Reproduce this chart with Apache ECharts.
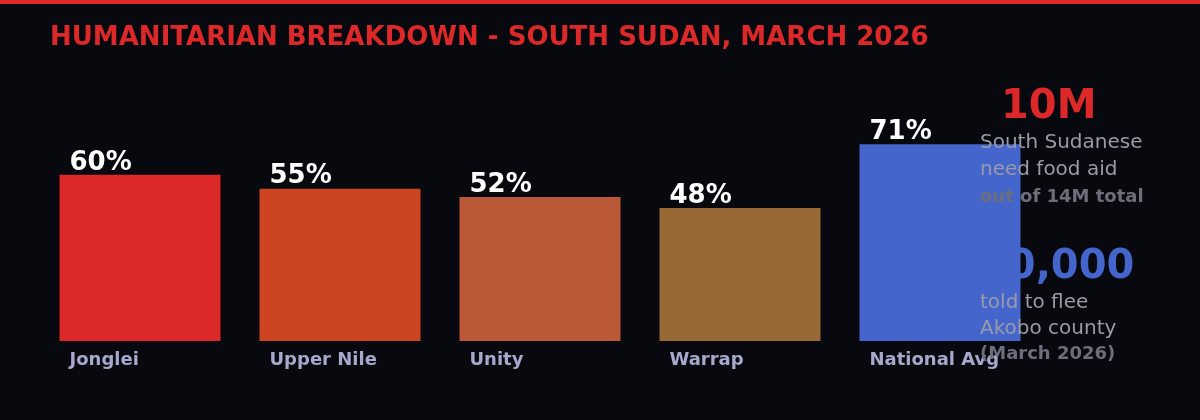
<!DOCTYPE html>
<html>
<head>
<meta charset="utf-8">
<script src="https://cdn.jsdelivr.net/npm/echarts@6/dist/echarts.min.js"></script>
<style>
  html, body { margin: 0; padding: 0; background: #08090e; }
  #main { width: 1200px; height: 420px; }
</style>
</head>
<body>
<div id="main"></div>
<script>
// 数据
var regions = ['Jonglei', 'Upper Nile', 'Unity', 'Warrap', 'National Avg'];
var foodInsecure = [60, 55, 52, 48, 71];
var barColors = ['#dc2828', '#cc4422', '#bb5838', '#986835', '#4466cc'];

var myChart = echarts.init(document.getElementById('main'));

var option = {
    backgroundColor: '#08090e',
    title: {
        text: 'HUMANITARIAN BREAKDOWN - SOUTH SUDAN, MARCH 2026',
        left: 45,
        top: 20,
        textStyle: {
            color: '#dc2828',
            fontFamily: 'DejaVu Sans',
            fontWeight: 'bold',
            fontSize: 26
        }
    },
    grid: { left: 40, right: 160, top: 64, bottom: 79 },
    xAxis: {
        type: 'category',
        data: regions,
        axisLine: { show: false },
        axisTick: { show: false },
        axisLabel: { show: false }
    },
    yAxis: {
        type: 'value',
        min: 0,
        max: 100,
        show: false,
        splitLine: { show: false }
    },
    series: [
        {
            // 柱子 + 数值
            type: 'bar',
            barWidth: '80.5%',
            data: foodInsecure.map(function (v, i) {
                return { value: v, itemStyle: { color: barColors[i] } };
            }),
            label: {
                show: true,
                position: [10, 1],
                verticalAlign: 'bottom',
                formatter: '{c}%',
                color: '#ffffff',
                fontFamily: 'DejaVu Sans',
                fontWeight: 'bold',
                fontSize: 26
            },
            z: 2
        },
        {
            // 类别名放在柱子下方，左对齐
            type: 'bar',
            barWidth: '80.5%',
            barGap: '-100%',
            data: foodInsecure,
            itemStyle: { color: 'rgba(0,0,0,0)' },
            label: {
                show: true,
                position: [10, '100%'],
                offset: [0, 10],
                verticalAlign: 'top',
                formatter: '{b}',
                color: '#a6a8cc',
                fontFamily: 'DejaVu Sans',
                fontWeight: 'bold',
                fontSize: 18
            },
            z: 20
        }
    ],
    graphic: [
        { type: 'rect', left: 0, top: 0, shape: { width: 1200, height: 4 }, style: { fill: '#dc2828' }, z: 100 },
        { type: 'text', left: 1001, top: 88, z: 100, style: { text: '10M', fill: '#dc2828', font: 'bold 40px "DejaVu Sans"' } },
        { type: 'text', left: 980, top: 133, z: 100, style: { text: 'South Sudanese', fill: '#9a9aa8', font: '20px "DejaVu Sans"' } },
        { type: 'text', left: 980, top: 160, z: 100, style: { text: 'need food aid', fill: '#9a9aa8', font: '20px "DejaVu Sans"' } },
        { type: 'text', left: 980, top: 188, z: 100, style: { text: 'out of 14M total', fill: '#6c6e7c', font: 'bold 18px "DejaVu Sans"' } },
        { type: 'text', left: 980, top: 248, z: 100, style: { text: '80,000', fill: '#4466cc', font: 'bold 40px "DejaVu Sans"' } },
        { type: 'text', left: 980, top: 293, z: 100, style: { text: 'told to flee', fill: '#9a9aa8', font: '20px "DejaVu Sans"' } },
        { type: 'text', left: 980, top: 319, z: 100, style: { text: 'Akobo county', fill: '#9a9aa8', font: '20px "DejaVu Sans"' } },
        { type: 'text', left: 980, top: 345, z: 100, style: { text: '(March 2026)', fill: '#6c6e7c', font: 'bold 18px "DejaVu Sans"' } }
    ]
};
myChart.setOption(option);
window.addEventListener('resize', function () {
    myChart.resize();
});
</script>
</body>
</html>
